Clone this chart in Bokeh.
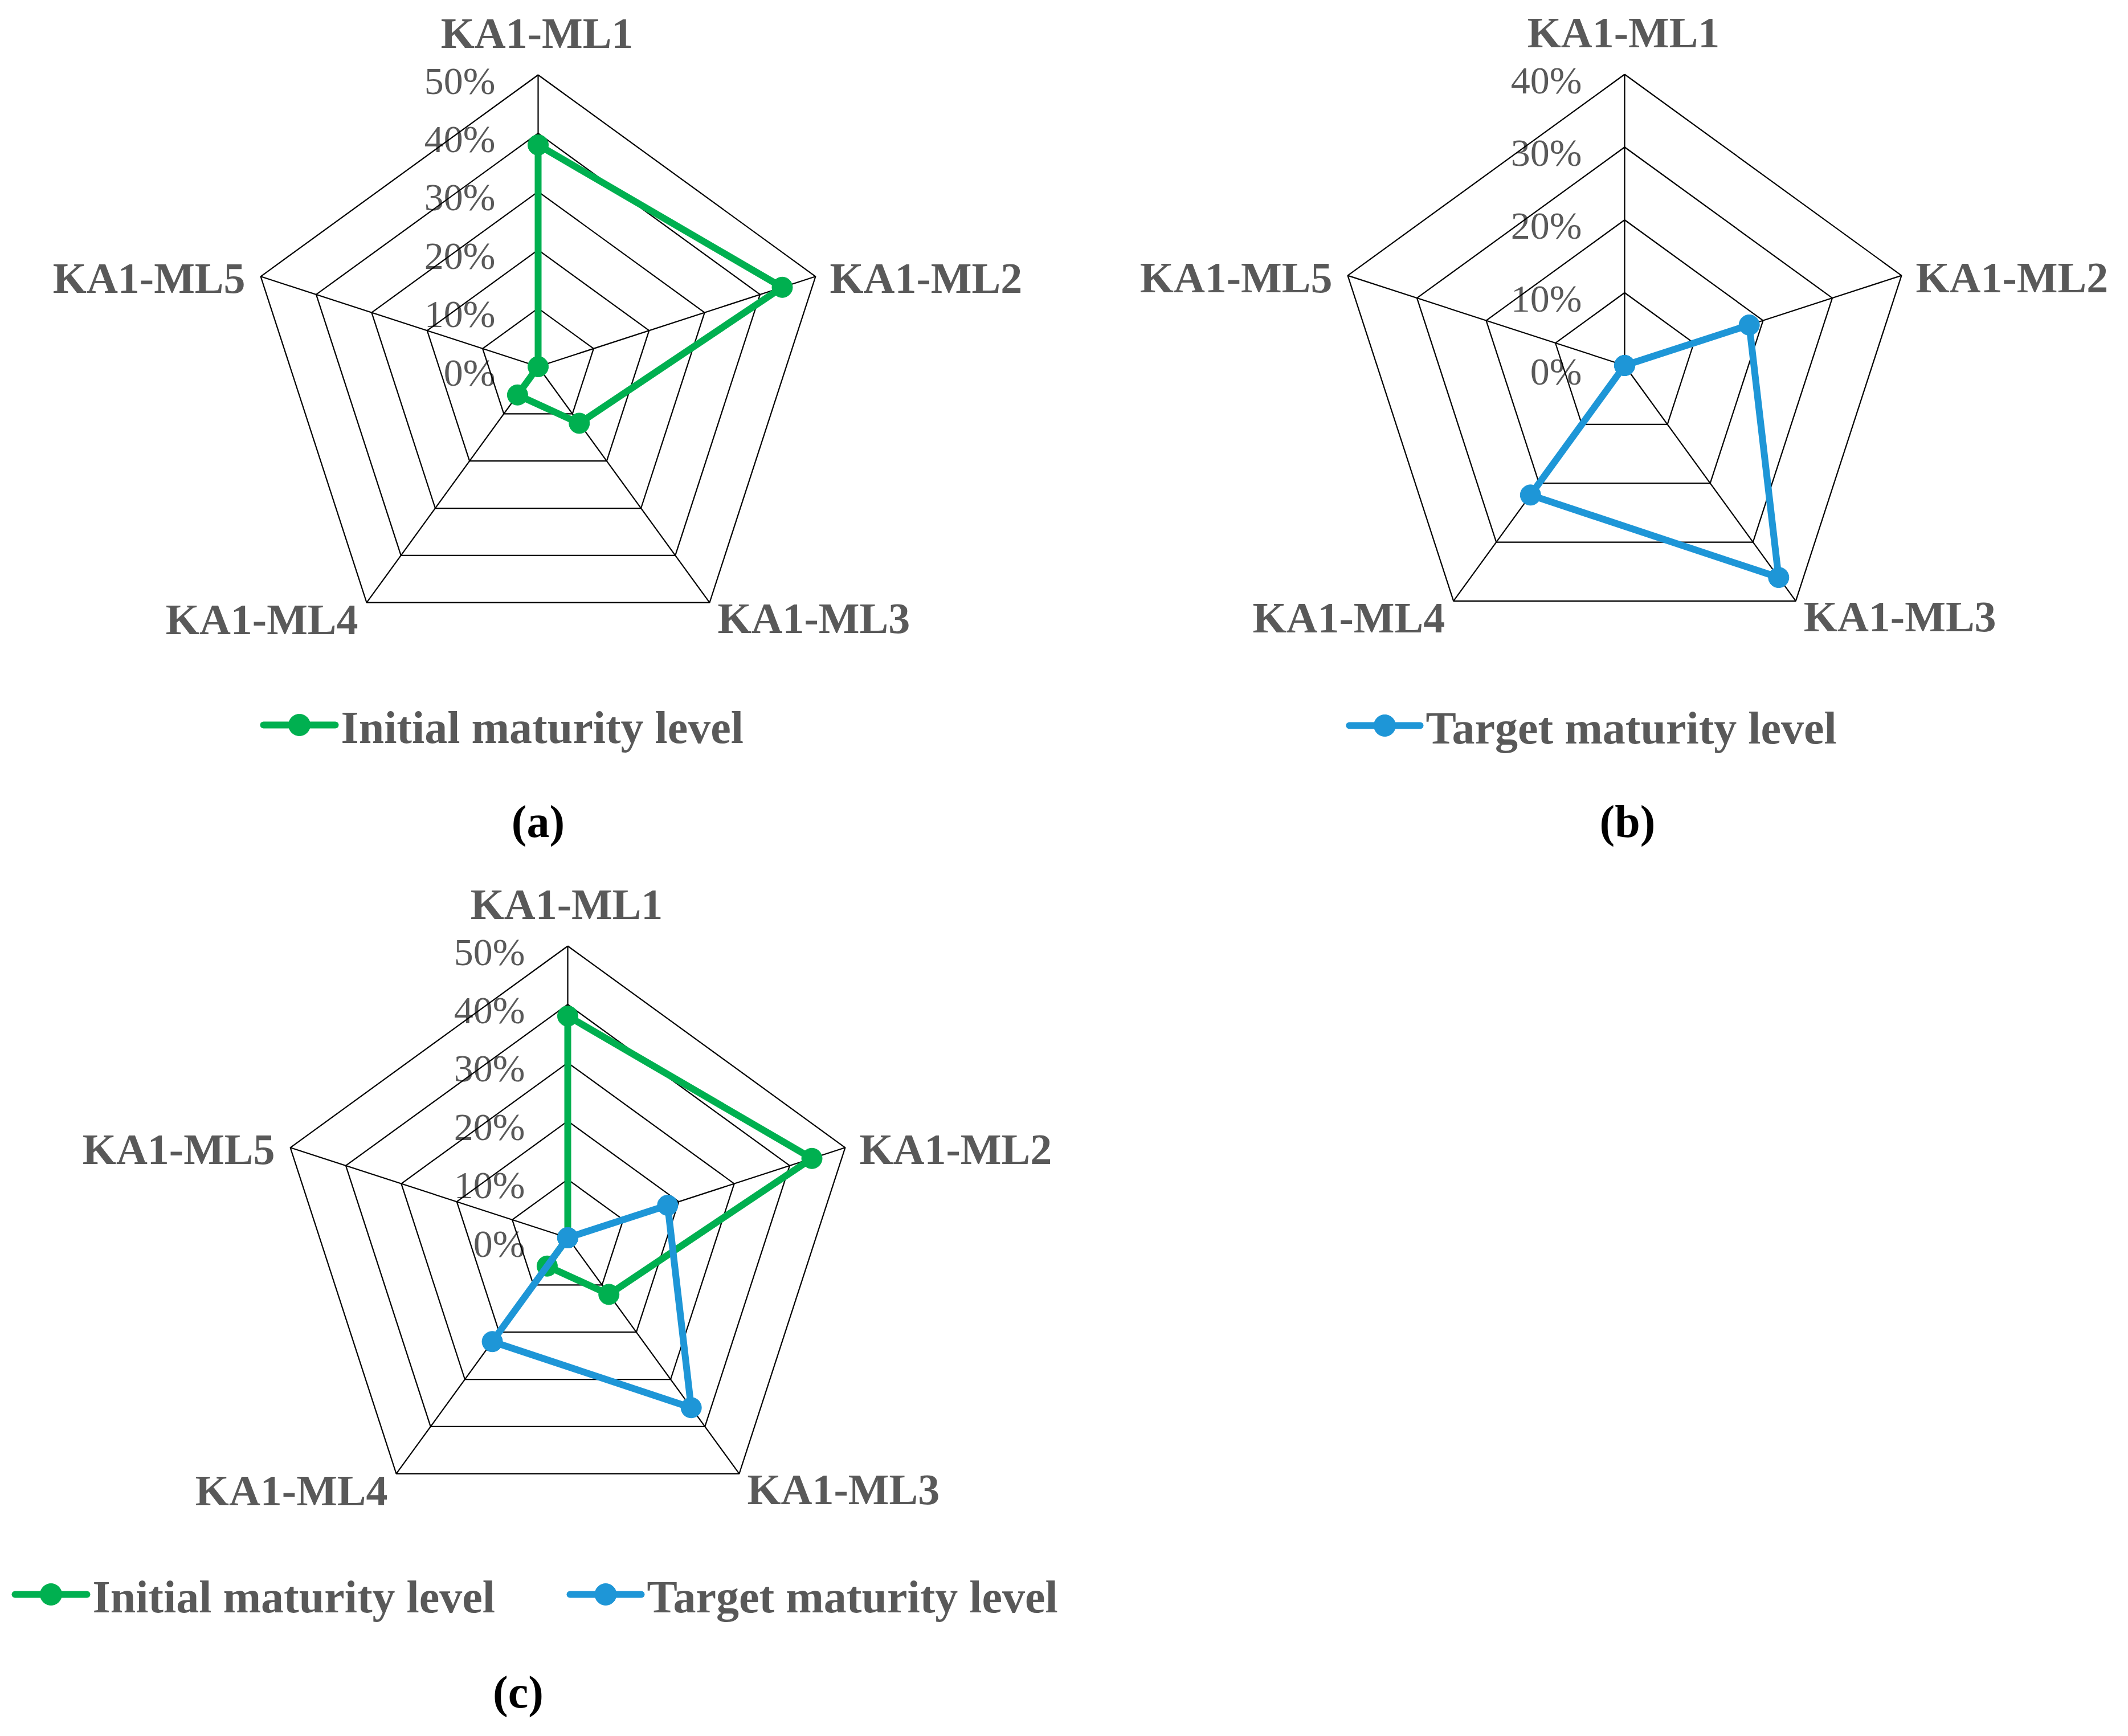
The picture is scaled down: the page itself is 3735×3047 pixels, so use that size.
import numpy as np
from bokeh.plotting import figure
from bokeh.models import Range1d
from bokeh.core.properties import value
from bokeh.embed import file_html
from bokeh.resources import INLINE

# ---------------- data ----------------
categories = ["KA1-ML1", "KA1-ML2", "KA1-ML3", "KA1-ML4", "KA1-ML5"]
initial_level = [38, 44, 12, 6, 0]      # %
target_level = [0, 18, 36, 22, 0]       # %
ticks_ac = [0, 10, 20, 30, 40, 50]
ticks_b = [0, 10, 20, 30, 40]
series_names = ["Initial maturity level", "Target maturity level"]
panel_labels = ["(a)", "(b)", "(c)"]

GREEN = "#00B050"
BLUE = "#1E96D7"
GREY = "#595959"
FONT = value("Liberation Serif")

W, H = 3719, 3031
p = figure(width=W, height=H, x_range=Range1d(8, 8 + W), y_range=Range1d(8 + H, 8),
           x_axis_type=None, y_axis_type=None, output_backend="svg",
           toolbar_location=None, min_border=0)
p.grid.visible = False
p.outline_line_color = None
p.background_fill_color = "white"
p.border_fill_color = "white"

angles = np.deg2rad(90 - 72 * np.arange(len(categories)))


def to_xy(cx, cy, R, vmax, vals):
    r = np.asarray(vals, dtype=float) / vmax * R
    return cx + r * np.cos(angles), cy - r * np.sin(angles)


def radar(cx, cy, R, ticks, series):
    vmax = ticks[-1]
    # tick labels (under grid)
    p.text(x=[cx - 75] * len(ticks), y=[cy - R * t / vmax + 10 for t in ticks],
           text=[f"{t}%" for t in ticks], text_align="right", text_baseline="alphabetic",
           text_font=FONT, text_font_style="normal", text_font_size=value("68px"),
           text_color=GREY)
    # rings
    xs, ys = [], []
    for t in ticks[1:]:
        x, y = to_xy(cx, cy, R, vmax, [t] * len(categories))
        xs.append(list(x) + [x[0]])
        ys.append(list(y) + [y[0]])
    p.multi_line(xs, ys, line_color="black", line_width=2.2)
    # spokes
    ox, oy = to_xy(cx, cy, R, vmax, [vmax] * len(categories))
    p.segment(x0=[cx] * len(categories), y0=[cy] * len(categories), x1=ox, y1=oy,
              line_color="black", line_width=2.2)
    # category labels
    offs = [(-2, -74, "center"), (25, 3, "left"), (14, 27, "left"),
            (-15, 29, "right"), (-27, 3, "right")]
    for i, cat in enumerate(categories):
        dx, dy, al = offs[i]
        p.text(x=[ox[i] + dx], y=[oy[i] + dy], text=[cat], text_align=al,
               text_baseline="alphabetic",
               text_font=FONT, text_font_style="bold", text_font_size=value("76px"),
               text_color=GREY)
    # series
    for vals, col in series:
        x, y = to_xy(cx, cy, R, vmax, vals)
        p.line(list(x) + [x[0]], list(y) + [y[0]], line_color=col, line_width=12,
               line_join="round")
        p.scatter(x, y, size=36, fill_color=col, line_color=col)


def legend_item(x0, x1, y, col, label):
    p.line([x0, x1], [y, y], line_color=col, line_width=12, line_cap="round")
    p.scatter([(x0 + x1) / 2], [y], size=38, fill_color=col, line_color=col)
    p.text(x=[x1 + 10], y=[y + 4], text=[label], text_align="left", text_baseline="middle",
           text_font=FONT, text_font_style="bold", text_font_size=value("80px"),
           text_color=GREY)


def caption(x, y, label):
    p.text(x=[x], y=[y], text=[label], text_align="center", text_baseline="middle",
           text_font=FONT, text_font_style="bold", text_font_size=value("80px"),
           text_color="black")


# panel (a)
radar(952, 651, 512, ticks_ac, [(initial_level, GREEN)])
legend_item(470, 596, 1280, GREEN, series_names[0])
caption(952, 1449, panel_labels[0])

# panel (b)
radar(2859, 649, 511, ticks_b, [(target_level, BLUE)])
legend_item(2376, 2500, 1281, BLUE, series_names[1])
caption(2864, 1449, panel_labels[1])

# panel (c)
radar(1004, 2180, 512, ticks_ac, [(initial_level, GREEN), (target_level, BLUE)])
legend_item(34, 160, 2806, GREEN, series_names[0])
legend_item(1008, 1133, 2806, BLUE, series_names[1])
caption(917, 2977, panel_labels[2])

open("out.html", "w").write(file_html(p, INLINE))
